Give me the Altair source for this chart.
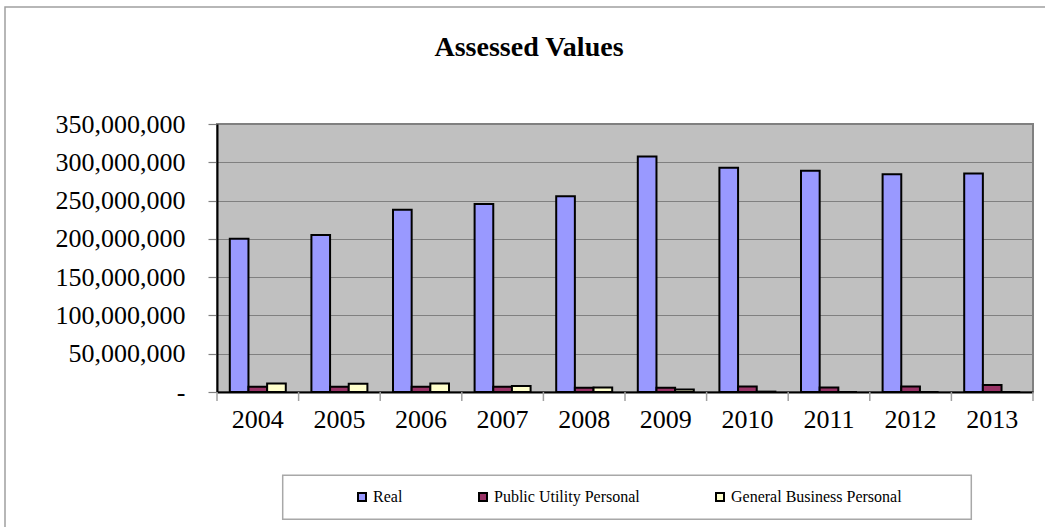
import altair as alt
import pandas as pd

years = ["2004", "2005", "2006", "2007", "2008", "2009", "2010", "2011", "2012", "2013"]
series = ["Real", "Public Utility Personal", "General Business Personal"]
real = [200.0, 205.0, 238.0, 245.5, 255.5, 307.5, 293.0, 289.0, 284.5, 285.5]
public_utility = [7.0, 7.0, 7.0, 7.0, 5.6, 5.6, 7.3, 6.0, 7.3, 9.1]
general_business = [11.2, 10.8, 11.2, 7.8, 5.9, 3.4, 0.5, 0.0, 0.0, 0.0]
colors = ["#9999FF", "#993366", "#FFFFCC"]
y_ticks = [0, 50e6, 100e6, 150e6, 200e6, 250e6, 300e6, 350e6]

rows = []
for i, yr in enumerate(years):
    for s, vals in zip(series, [real, public_utility, general_business]):
        rows.append({"year": yr, "series": s, "value": vals[i] * 1e6})
df = pd.DataFrame(rows)
year_df = pd.DataFrame({"year": years})
one = pd.DataFrame({"k": [0]})

FONT = "Liberation Serif"
x_scale = alt.Scale(domain=years, paddingInner=0, paddingOuter=0)

bars = alt.Chart(df).mark_bar(stroke="black", strokeWidth=2).encode(
    x=alt.X("year:N", scale=x_scale, sort=years,
            axis=alt.Axis(title=None, labelAngle=0, labelFont=FONT, labelFontSize=26,
                          labelColor="black", ticks=False, domainColor="black",
                          domainWidth=2, labelPadding=14)),
    xOffset=alt.XOffset("series:N", sort=series,
                        scale=alt.Scale(domain=series, paddingInner=0, paddingOuter=0.686)),
    y=alt.Y("value:Q", scale=alt.Scale(domain=[0, 350e6]),
            axis=alt.Axis(title=None, values=y_ticks,
                          labelExpr="datum.value == 0 ? '-' : format(datum.value, ',')",
                          labelFont=FONT, labelFontSize=26, labelColor="black",
                          grid=True, gridColor="#808080", gridWidth=1.2,
                          tickColor="#808080", tickSize=9, tickWidth=1.2,
                          labelPadding=23, domainColor="black", domainWidth=2)),
    color=alt.Color("series:N", sort=series,
                    scale=alt.Scale(domain=series, range=colors),
                    legend=alt.Legend(title=None, orient="none", legendX=137, legendY=365,
                                      direction="horizontal", columnPadding=72,
                                      symbolType="square", symbolSize=64,
                                      symbolStrokeColor="black", symbolStrokeWidth=2,
                                      labelFont=FONT, labelFontSize=16, labelColor="black",
                                      labelOffset=3, labelLimit=0, padding=0)),
)

ticks_left = alt.Chart(year_df).mark_rule(color="#A0A0A0", strokeWidth=1.5).encode(
    x=alt.X("year:N", bandPosition=0, scale=x_scale, sort=years),
    y=alt.value(268), y2=alt.value(277),
)
ticks_right = alt.Chart(year_df).transform_filter(
    alt.datum.year == years[-1]
).mark_rule(color="#A0A0A0", strokeWidth=1.5).encode(
    x=alt.X("year:N", bandPosition=1, scale=x_scale, sort=years),
    y=alt.value(268), y2=alt.value(277),
)

legend_box = alt.Chart(one).mark_rect(fill="transparent", stroke="#A8A8A8", strokeWidth=1.5).encode(
    x=alt.value(65.7), x2=alt.value(754.3), y=alt.value(351.3), y2=alt.value(395.3)
)
outer_box = alt.Chart(one).mark_rect(fill="transparent", stroke="#A0A0A0", strokeWidth=1.5).encode(
    x=alt.value(-212), x2=alt.value(900), y=alt.value(-117), y2=alt.value(500)
)

chart = alt.layer(outer_box, bars, ticks_left, ticks_right, legend_box).properties(
    width=816, height=268,
    title=alt.TitleParams("Assessed Values", font=FONT, fontSize=28, fontWeight="bold",
                          color="black", anchor="middle", dx=-96, dy=78, offset=0,
                          baseline="alphabetic"),
    autosize=alt.AutoSizeParams(type="none"),
    padding={"left": 217, "top": 124, "right": 12, "bottom": 135},
    background="white",
).configure_view(
    fill="#C0C0C0", stroke="#808080", strokeWidth=2
).configure_legend(
    labelFont=FONT, labelFontSize=16, labelLimit=0
)

chart.save("out.html", embed_options={"renderer": "svg", "actions": False})
